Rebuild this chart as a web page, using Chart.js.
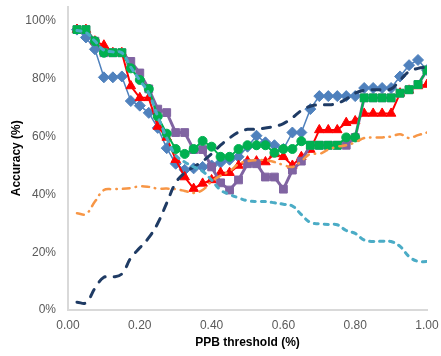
<!DOCTYPE html>
<html>
<head>
<meta charset="utf-8">
<script src="https://cdn.jsdelivr.net/npm/chart.js@4.4.0/dist/chart.umd.min.js"></script>
<style>
  body { margin: 0; background: #fff; }
  #wrap { width: 441px; height: 356px; }
</style>
</head>
<body>
<div id="wrap"><canvas id="accChart" width="441" height="356"></canvas></div>
<script>
const thresholds = [0.025, 0.05, 0.075, 0.1, 0.125, 0.15, 0.175, 0.2, 0.225, 0.25,
    0.275, 0.3, 0.325, 0.35, 0.375, 0.4, 0.425, 0.45, 0.475, 0.5,
    0.525, 0.55, 0.575, 0.6, 0.625, 0.65, 0.675, 0.7, 0.725, 0.75,
    0.775, 0.8, 0.825, 0.85, 0.875, 0.9, 0.925, 0.95, 0.975, 1.0];

const blueDiamonds = [97, 94.3, 90.2, 80.5, 80.5, 80.8, 72.3, 70.7, 68.2, 63,
    56, 50.6, 48.5, 49, 49.5, 50, 51, 52, 53, 56.5,
    60.3, 58, 57, 55.7, 61.4, 61.4, 69.5, 74, 74, 74,
    74, 74, 76.8, 76.8, 76.8, 76.8, 80.8, 84.7, 86.5, 83];

const redTriangles = [97, 97, 93, 91.6, 89, 89, 77.5, 73.4, 73.4, 63.5,
    59.7, 52, 46, 42, 43.8, 45, 47.5, 47.5, 50, 51.5,
    51.5, 51.2, 54, 53, 50, 53, 55.5, 62.3, 62.3, 62.3,
    64.8, 65.4, 68, 68, 68, 68, 75, 76, 77.5, 78];

const purpleSquares = [97, 97, 93, 89, 89, 89, 86, 82, 76.5, 69.5,
    68.3, 61.4, 61.4, 55.5, 55.5, 49.5, 44, 41.5, 45, 50.6,
    50.6, 46, 46, 41.8, 48.4, 51.5, 57, 57, 57, 57,
    57, 59.7, 73.4, 73.4, 73.4, 73.4, 75, 76.2, 78, 83];

const greenCircles = [97, 97, 93, 89, 89, 89, 83.6, 79.6, 76.5, 67,
    61, 55.7, 54, 55.7, 58.5, 56.5, 53, 53, 55.7, 57,
    57, 57, 54.4, 55.7, 55.7, 58.4, 57, 57, 57, 57,
    59.7, 59.7, 73.4, 73.4, 73.4, 73.4, 75, 76.2, 78, 83];

const greenShapes = ['rect', 'rect', 'circle', 'circle', 'rect', 'rect', 'circle', 'circle', 'circle', 'circle',
    'circle', 'circle', 'circle', 'circle', 'circle', 'circle', 'circle', 'circle', 'circle', 'circle',
    'circle', 'circle', 'circle', 'circle', 'circle', 'circle', 'rect', 'rect', 'rect', 'rect',
    'circle', 'circle', 'rect', 'rect', 'rect', 'rect', 'rect', 'rect', 'rect', 'rect'];

const navyDashed = [2.7, 2.5, 7.5, 11.3, 11.4, 12.5, 18, 21.5, 25, 30,
    37, 44, 47.5, 49.5, 51.5, 54, 57, 59.5, 61.5, 62.5,
    62.5, 63, 63.5, 64.5, 66.5, 69, 70.5, 71, 71, 71.5,
    73, 75, 76, 76.2, 76.2, 76.5, 79.5, 82.5, 83.6, 84];

const orangeDashDot = [33.5, 33.2, 37.5, 41.5, 41.8, 41.9, 42.2, 42.8, 42.6, 42,
    42, 41.8, 41.2, 40.5, 41.5, 44.5, 46.5, 48, 50.5, 51.5,
    51.8, 51.8, 51.2, 50.2, 49.5, 51.5, 54, 54, 55.5, 56.5,
    57, 58, 59.5, 59.7, 59.7, 60, 60.8, 59.5, 60.5, 61.4];

const lightBlueDashed = [96.7, 96, 93, 89.9, 89.3, 89, 84, 79.5, 75, 67,
    59.5, 53.5, 51.2, 49.5, 48, 45, 41.5, 40, 38.8, 37.8,
    37.5, 37.5, 37.1, 36.6, 36, 33, 30.3, 29.8, 29.6, 29.5,
    27.5, 26.5, 24.2, 23.7, 23.8, 23.7, 22, 18.5, 16.8, 16.8];

const xTicks = [0, 0.2, 0.4, 0.6, 0.8, 1.0];
const yTicks = [0, 20, 40, 60, 80, 100];

function pts(values) {
    return thresholds.map((x, i) => ({ x: x, y: values[i] }));
}

const font = "'Liberation Sans', Arial, sans-serif";

const datasets = [
    {
        data: pts(lightBlueDashed), borderColor: '#4BACC6', borderWidth: 3,
        borderDash: [4, 6], borderCapStyle: 'round', tension: 0.4, pointRadius: 0
    },
    {
        data: pts(navyDashed), borderColor: '#1F3B64', borderWidth: 3,
        borderDash: [8, 9], borderCapStyle: 'round', tension: 0.4, pointRadius: 0
    },
    {
        data: pts(orangeDashDot), borderColor: '#F79646', borderWidth: 2.5,
        borderDash: [7, 6, 0.5, 6], borderCapStyle: 'round', tension: 0.4, pointRadius: 0
    },
    {
        data: pts(greenCircles), borderColor: '#00B050', backgroundColor: '#00B050', borderWidth: 2,
        pointStyle: greenShapes, pointRadius: greenShapes.map(s => s === 'rect' ? 5.5 : 4.5),
        pointBorderWidth: 1, tension: 0
    },
    {
        data: pts(purpleSquares), borderColor: '#8064A2', backgroundColor: '#8064A2', borderWidth: 3,
        pointStyle: 'rect', pointRadius: 5.5, pointBorderWidth: 1, tension: 0
    },
    {
        data: pts(redTriangles), borderColor: '#FF0000', backgroundColor: '#FF0000', borderWidth: 2,
        pointStyle: 'triangle', pointRadius: 5.5, pointBorderWidth: 1, tension: 0
    },
    {
        data: pts(blueDiamonds), borderColor: '#4F81BD', backgroundColor: '#4F81BD', borderWidth: 1.5,
        pointStyle: 'rectRot', pointRadius: 5.5, pointBorderWidth: 1, tension: 0
    }
];

new Chart(document.getElementById('accChart'), {
    type: 'line',
    data: { datasets: datasets },
    options: {
        responsive: false,
        animation: false,
        layout: { padding: { left: 0, right: 14, top: 3, bottom: 0 } },
        plugins: { legend: { display: false }, tooltip: { enabled: false } },
        scales: {
            x: {
                type: 'linear', min: 0, max: 1,
                afterFit: s => { s.height = 46; s.paddingLeft = 0; s.paddingRight = 0; },
                afterBuildTicks: s => { s.ticks = xTicks.map(v => ({ value: v })); },
                grid: { display: false, drawTicks: false },
                border: { display: true, color: '#D9D9D9', width: 2 },
                ticks: {
                    padding: 8, color: '#595959', maxRotation: 0,
                    font: { family: font, size: 12 },
                    callback: v => v.toFixed(2)
                },
                title: {
                    display: true, text: 'PPB threshold (%)', color: '#000',
                    font: { family: font, size: 12, weight: 'bold' },
                    padding: { top: 0, bottom: 6 }
                }
            },
            y: {
                min: 0, max: 105,
                afterFit: s => { s.width = 68; s.paddingTop = 0; s.paddingBottom = 0; },
                afterBuildTicks: s => { s.ticks = yTicks.map(v => ({ value: v })); },
                grid: { display: false, drawTicks: false },
                border: { display: true, color: '#D9D9D9', width: 2 },
                ticks: {
                    padding: 12, color: '#595959',
                    font: { family: font, size: 12 },
                    callback: v => v + '%'
                },
                title: {
                    display: true, text: 'Accuracy (%)', color: '#000',
                    font: { family: font, size: 12, weight: 'bold' },
                    padding: { top: 9, bottom: 0 }
                }
            }
        }
    }
});
</script>
</body>
</html>
